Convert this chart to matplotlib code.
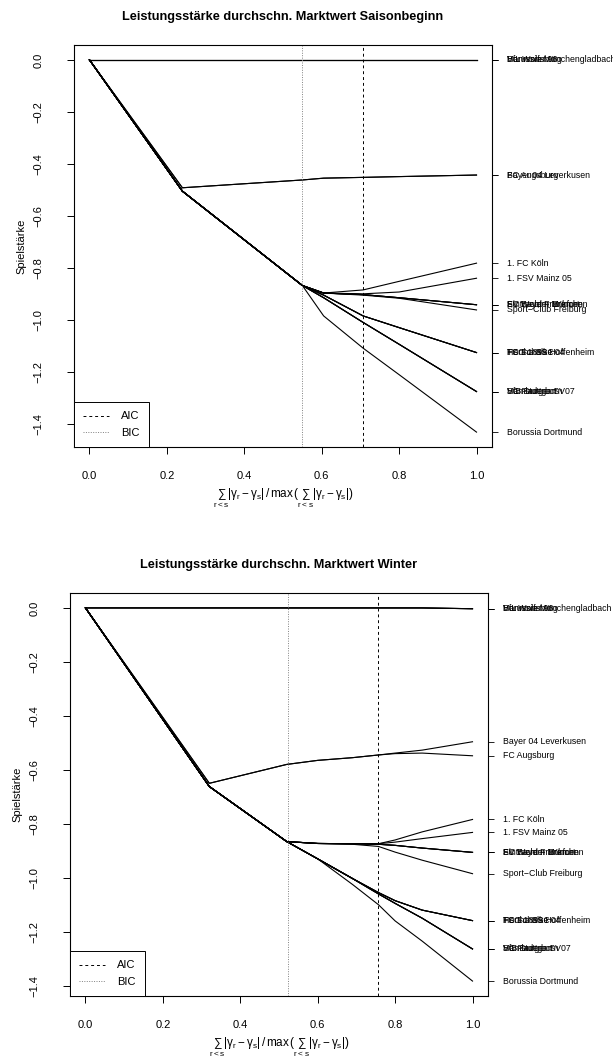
import matplotlib
matplotlib.use("Agg")
import matplotlib.pyplot as plt
import matplotlib.transforms as mtransforms
import numpy as np

plt.rcParams['font.family'] = ['Liberation Sans', 'DejaVu Sans']
plt.rcParams['mathtext.fontset'] = 'custom'
plt.rcParams['mathtext.rm'] = 'Liberation Sans'
plt.rcParams['mathtext.it'] = 'Liberation Sans'

# ---------------- data: panel 1 (Saisonbeginn) ----------------
title1 = "Leistungsstärke durchschn. Marktwert Saisonbeginn"
x1 = [0.0, 0.24, 0.55, 0.605, 0.707, 0.80, 1.0]
teams1 = {
    "Borussia Mönchengladbach": [0, 0, 0, 0, 0, 0, 0],
    "VfL Wolfsburg":            [0, 0, 0, 0, 0, 0, 0],
    "Hannover 96":              [0, 0, 0, 0, 0, 0, 0],
    "Bayer 04 Leverkusen":      [0, -0.492, -0.462, -0.455, -0.452, -0.449, -0.443],
    "FC Augsburg":              [0, -0.492, -0.462, -0.455, -0.452, -0.449, -0.443],
    "1. FC Köln":               [0, -0.505, -0.868, -0.897, -0.885, -0.852, -0.782],
    "1. FSV Mainz 05":          [0, -0.505, -0.868, -0.897, -0.900, -0.893, -0.840],
    "SV Werder Bremen":         [0, -0.505, -0.868, -0.897, -0.903, -0.915, -0.942],
    "FC Bayern München":        [0, -0.505, -0.868, -0.897, -0.903, -0.915, -0.942],
    "Eintracht Frankfurt":      [0, -0.505, -0.868, -0.897, -0.903, -0.915, -0.942],
    "Sport\u2212Club Freiburg": [0, -0.505, -0.868, -0.897, -0.905, -0.917, -0.962],
    "Hertha BSC":               [0, -0.505, -0.868, -0.905, -0.985, -1.030, -1.126],
    "FC Schalke 04":            [0, -0.505, -0.868, -0.905, -0.985, -1.030, -1.126],
    "TSG 1899 Hoffenheim":      [0, -0.505, -0.868, -0.905, -0.985, -1.030, -1.126],
    "VfB Stuttgart":            [0, -0.505, -0.868, -0.915, -1.010, -1.094, -1.276],
    "Hamburger SV":             [0, -0.505, -0.868, -0.915, -1.010, -1.094, -1.276],
    "SC Paderborn 07":          [0, -0.505, -0.868, -0.915, -1.010, -1.094, -1.276],
    "Borussia Dortmund":        [0, -0.505, -0.868, -0.985, -1.109, -1.211, -1.432],
}
aic1 = 0.707
bic1 = 0.548

# ---------------- data: panel 2 (Winter) ----------------
title2 = "Leistungsstärke durchschn. Marktwert Winter"
x2 = [0.0, 0.32, 0.52, 0.60, 0.69, 0.757, 0.80, 0.87, 1.0]
teams2 = {
    "Borussia Mönchengladbach": [0, 0, 0, 0, 0, 0, 0, 0, -0.003],
    "VfL Wolfsburg":            [0, 0, 0, 0, 0, 0, 0, 0, -0.003],
    "Hannover 96":              [0, 0, 0, 0, 0, 0, 0, 0, -0.003],
    "Bayer 04 Leverkusen":      [0, -0.650, -0.580, -0.565, -0.555, -0.545, -0.538, -0.527, -0.496],
    "FC Augsburg":              [0, -0.650, -0.580, -0.565, -0.555, -0.545, -0.540, -0.538, -0.548],
    "1. FC Köln":               [0, -0.662, -0.866, -0.873, -0.874, -0.874, -0.860, -0.830, -0.784],
    "1. FSV Mainz 05":          [0, -0.662, -0.866, -0.873, -0.874, -0.874, -0.868, -0.855, -0.832],
    "SV Werder Bremen":         [0, -0.662, -0.866, -0.873, -0.874, -0.876, -0.880, -0.890, -0.906],
    "FC Bayern München":        [0, -0.662, -0.866, -0.873, -0.874, -0.876, -0.880, -0.890, -0.906],
    "Eintracht Frankfurt":      [0, -0.662, -0.866, -0.873, -0.874, -0.876, -0.880, -0.890, -0.906],
    "Sport\u2212Club Freiburg": [0, -0.662, -0.866, -0.873, -0.876, -0.884, -0.905, -0.935, -0.985],
    "Hertha BSC":               [0, -0.662, -0.866, -0.930, -1.003, -1.055, -1.085, -1.120, -1.159],
    "FC Schalke 04":            [0, -0.662, -0.866, -0.930, -1.003, -1.055, -1.085, -1.120, -1.159],
    "TSG 1899 Hoffenheim":      [0, -0.662, -0.866, -0.930, -1.003, -1.055, -1.085, -1.120, -1.159],
    "VfB Stuttgart":            [0, -0.662, -0.866, -0.930, -1.003, -1.060, -1.095, -1.150, -1.264],
    "Hamburger SV":             [0, -0.662, -0.866, -0.930, -1.003, -1.060, -1.095, -1.150, -1.264],
    "SC Paderborn 07":          [0, -0.662, -0.866, -0.930, -1.003, -1.060, -1.095, -1.150, -1.264],
    "Borussia Dortmund":        [0, -0.662, -0.866, -0.930, -1.025, -1.100, -1.160, -1.235, -1.383],
}
aic2 = 0.757
bic2 = 0.522

xticks = [0.0, 0.2, 0.4, 0.6, 0.8, 1.0]
yticks = [0.0, -0.2, -0.4, -0.6, -0.8, -1.0, -1.2, -1.4]
xlabel = r'$\sum_{r<s}|\gamma_r-\gamma_s|\,/\,\max\,(\sum_{r<s}|\gamma_r-\gamma_s|)$'
ylabel = "Spielstärke"

fig = plt.figure(figsize=(6.13, 10.59), dpi=100)

def panel(rect, title, x, teams, aic, bic):
    ax = fig.add_axes(rect)
    for name, y in teams.items():
        ax.plot(x, y, color='black', lw=0.8, solid_joinstyle='round')
    ax.axvline(aic, color='black', ls=(0, (3, 3)), lw=0.7)
    ax.axvline(bic, color='0.5', ls=(0, (1, 1.5)), lw=0.7)
    allv = np.concatenate([np.asarray(v, float) for v in teams.values()])
    lo, hi = allv.min(), allv.max()
    r = hi - lo
    ax.set_ylim(lo - 0.04 * r, hi + 0.04 * r)
    ax.set_xlim(-0.04, 1.04)
    ax.set_xticks(xticks)
    ax.set_xticklabels([f"{t:.1f}" for t in xticks])
    ax.set_yticks(yticks)
    ax.set_yticklabels([f"{t:.1f}".replace("-", "\u2212") for t in yticks],
                       rotation=90, va='center')
    ax.tick_params(axis='both', direction='out', length=5, width=0.7,
                   labelsize=8)
    ax.tick_params(axis='x', pad=12)
    ax.tick_params(axis='y', pad=17)
    for s in ax.spines.values():
        s.set_linewidth(0.8)
    ax.set_title(title, fontsize=9.2, fontweight='bold', pad=18)
    ax.set_xlabel(xlabel, fontsize=8.5, labelpad=4)
    ax.set_ylabel(ylabel, fontsize=8, labelpad=5)
    h1, = ax.plot([], [], color='black', ls=(0, (3, 3)), lw=0.7, label='AIC')
    h2, = ax.plot([], [], color='0.5', ls=(0, (1, 1.5)), lw=0.7, label='BIC')
    leg = ax.legend(handles=[h1, h2], loc='lower left', borderaxespad=0,
                    fancybox=False, edgecolor='black', framealpha=1,
                    fontsize=8, handlelength=2.3, handletextpad=1.1,
                    labelspacing=0.55, borderpad=0.85)
    leg.get_frame().set_linewidth(0.7)
    ax2 = ax.twinx()
    ax2.set_ylim(ax.get_ylim())
    finals = [v[-1] for v in teams.values()]
    ax2.set_yticks(finals)
    ax2.set_yticklabels([])
    ax2.tick_params(axis='y', direction='out', length=4, width=0.6)
    for s in ax2.spines.values():
        s.set_visible(False)
    trans = mtransforms.blended_transform_factory(ax.transAxes, ax.transData)
    for name, y in teams.items():
        ax.text(1.036, y[-1], name, transform=trans, fontsize=6.3,
                ha='left', va='center', clip_on=False)
    return ax

panel([74/613, 1-447/1059, 418/613, 402/1059], title1, x1, teams1, aic1, bic1)
panel([70/613, 1-996/1059, 418/613, 403/1059], title2, x2, teams2, aic2, bic2)

fig.savefig("out.png", dpi=100)
